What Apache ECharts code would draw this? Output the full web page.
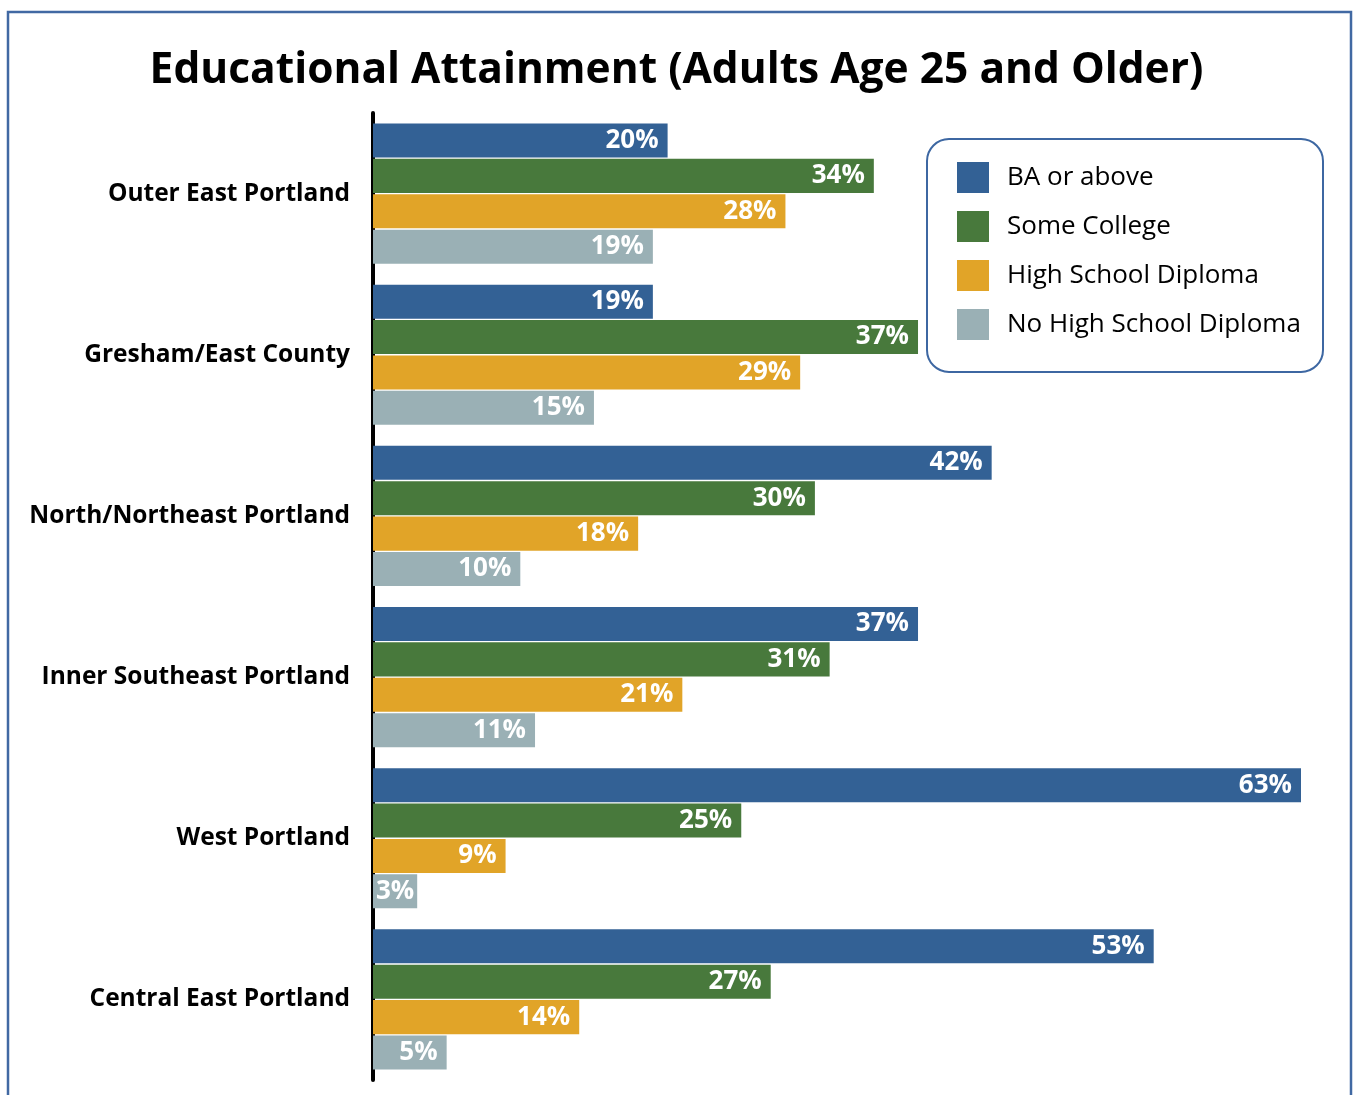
<!DOCTYPE html>
<html>
<head>
<meta charset="utf-8">
<script src="https://cdn.jsdelivr.net/npm/echarts@6/dist/echarts.min.js"></script>
<style>
html,body{margin:0;padding:0;background:#fff;}
#chart{width:1353px;height:1095px;}
</style>
</head>
<body>
<div id="chart"></div>
<script>
const titleText = 'Educational Attainment (Adults Age 25 and Older)';
const categories = ['Outer East Portland', 'Gresham/East County', 'North/Northeast Portland', 'Inner Southeast Portland', 'West Portland', 'Central East Portland'];
const seriesNames = ['BA or above', 'Some College', 'High School Diploma', 'No High School Diploma'];
const baOrAbove = [20, 19, 42, 37, 63, 53];
const someCollege = [34, 37, 30, 31, 25, 27];
const highSchool = [28, 29, 18, 21, 9, 14];
const noHighSchool = [19, 15, 10, 11, 3, 5];
const colors = ['#336195', '#48793c', '#e1a428', '#9ab0b5'];

const FONT = '"Open Sans", "Noto Sans", sans-serif';
const values = [baOrAbove, someCollege, highSchool, noHighSchool];

const chart = echarts.init(document.getElementById('chart'), null, {renderer: 'canvas'});
chart.setOption({
  animation: false,
  backgroundColor: '#ffffff',
  title: {
    text: titleText,
    left: 'center',
    top: 44,
    textStyle: {fontFamily: FONT, fontSize: 42.5, fontWeight: 'bold', color: '#000'}
  },
  graphic: [
    {type: 'rect', z: 100, silent: true,
     shape: {x: 8, y: 12, width: 1343, height: 1110},
     style: {fill: 'none', stroke: '#4169a3', lineWidth: 2.5}},
    {type: 'rect', z: 0, silent: true,
     shape: {x: 927, y: 139, width: 396, height: 233, r: 22},
     style: {fill: '#fff', stroke: '#3d67a2', lineWidth: 2}}
  ],
  legend: {
    orient: 'vertical',
    left: 957,
    top: 162,
    padding: 0,
    itemWidth: 32,
    itemHeight: 31,
    itemGap: 18,
    icon: 'rect',
    z: 10,
    textStyle: {fontFamily: FONT, fontSize: 26, color: '#000', padding: [0, 0, 0, 13], lineHeight: 31},
    data: seriesNames
  },
  grid: {left: 373, top: 113, width: 928, height: 967, containLabel: false},
  xAxis: {type: 'value', min: 0, max: 63, show: false},
  yAxis: {
    type: 'category',
    data: categories,
    inverse: true,
    offset: 2,
    axisLine: {show: true, lineStyle: {color: '#000', width: 4}},
    axisTick: {show: false},
    axisLabel: {fontFamily: FONT, fontSize: 24.5, fontWeight: 'bold', color: '#000', margin: 21}
  },
  series: seriesNames.map((name, i) => ({
    name: name,
    type: 'bar',
    z: 3,
    data: values[i].map(v => v < 5
      ? {value: v, label: {position: 'insideLeft', distance: 3}}
      : v),
    barCategoryGap: '13%',
    barGap: '4%',
    itemStyle: {color: colors[i]},
    label: {
      show: true,
      position: 'insideRight',
      distance: 9,
      formatter: '{c}%',
      color: '#fff',
      fontFamily: FONT,
      fontSize: 26,
      fontWeight: 'bold'
    }
  }))
});
</script>
</body>
</html>
